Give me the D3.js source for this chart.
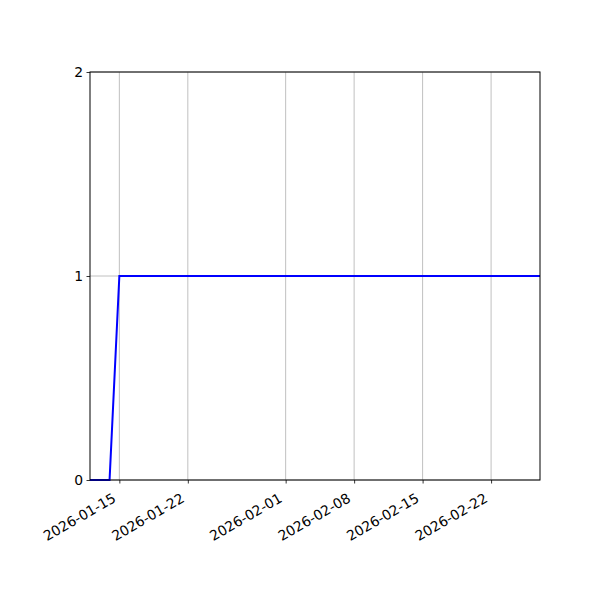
<!DOCTYPE html>
<html>
<head>
<meta charset="utf-8">
<script src="https://cdn.jsdelivr.net/npm/d3@7"></script>
<style>
  body { margin: 0; background: #fff; }
  text { font-family: "DejaVu Sans", sans-serif; }
</style>
</head>
<body>
<div id="chart"></div>
<script>
// Data
const dates = ["2026-01-12", "2026-01-13", "2026-01-14", "2026-01-15", "2026-02-27"];
const values = [0, 0, 0, 1, 1];
const xTicks = ["2026-01-15", "2026-01-22", "2026-02-01", "2026-02-08", "2026-02-15", "2026-02-22"];
const yTicks = [0, 1, 2];

const parse = d3.utcParse("%Y-%m-%d");
const points = dates.map((d, i) => ({ date: parse(d), value: values[i] }));

// Dimensions
const width = 600, height = 600;
const margin = { top: 72, right: 60, bottom: 120, left: 90 };

const svg = d3.select("#chart")
    .append("svg")
    .attr("width", width)
    .attr("height", height);

const x = d3.scaleUtc()
    .domain([parse("2026-01-12"), parse("2026-02-27")])
    .range([margin.left, width - margin.right]);

const y = d3.scaleLinear()
    .domain([0, 2])
    .range([height - margin.bottom, margin.top]);

// Grid
svg.append("g")
    .selectAll("line.vgrid")
    .data(xTicks)
    .enter()
    .append("line")
    .attr("x1", d => x(parse(d)))
    .attr("x2", d => x(parse(d)))
    .attr("y1", margin.top)
    .attr("y2", height - margin.bottom)
    .attr("stroke", "#b0b0b0")
    .attr("stroke-width", 0.8);

svg.append("g")
    .selectAll("line.hgrid")
    .data(yTicks)
    .enter()
    .append("line")
    .attr("x1", margin.left)
    .attr("x2", width - margin.right)
    .attr("y1", d => y(d))
    .attr("y2", d => y(d))
    .attr("stroke", "#b0b0b0")
    .attr("stroke-width", 0.8);

// Line
const line = d3.line()
    .x(d => x(d.date))
    .y(d => y(d.value));

svg.append("path")
    .datum(points)
    .attr("d", line)
    .attr("fill", "none")
    .attr("stroke", "blue")
    .attr("stroke-width", 2);

// Axes
const xAxis = svg.append("g")
    .attr("transform", `translate(0,${height - margin.bottom})`)
    .call(d3.axisBottom(x)
        .tickValues(xTicks.map(parse))
        .tickFormat(d3.utcFormat("%Y-%m-%d"))
        .tickSize(3.5)
        .tickPadding(3.5));

// rotated labels, right end just under the tick
xAxis.selectAll("text")
    .attr("text-anchor", "end")
    .attr("x", 0)
    .attr("y", 0)
    .attr("dy", 0)
    .attr("transform", "translate(-3,21) rotate(-30)")
    .style("font-size", "13.9px")
    .attr("fill", "#000");

const yAxis = svg.append("g")
    .attr("transform", `translate(${margin.left},0)`)
    .call(d3.axisLeft(y)
        .tickValues(yTicks)
        .tickFormat(d3.format("d"))
        .tickSize(3.5)
        .tickPadding(3.5));

yAxis.selectAll("text")
    .style("font-size", "13.9px")
    .attr("fill", "#000");

[xAxis, yAxis].forEach(g => {
    g.select(".domain").remove();
    g.selectAll(".tick line").attr("stroke", "#000").attr("stroke-width", 0.8);
});

// Frame
svg.append("rect")
    .attr("x", margin.left)
    .attr("y", margin.top)
    .attr("width", width - margin.left - margin.right)
    .attr("height", height - margin.top - margin.bottom)
    .attr("fill", "none")
    .attr("stroke", "#000")
    .attr("stroke-width", 1);
</script>
</body>
</html>
